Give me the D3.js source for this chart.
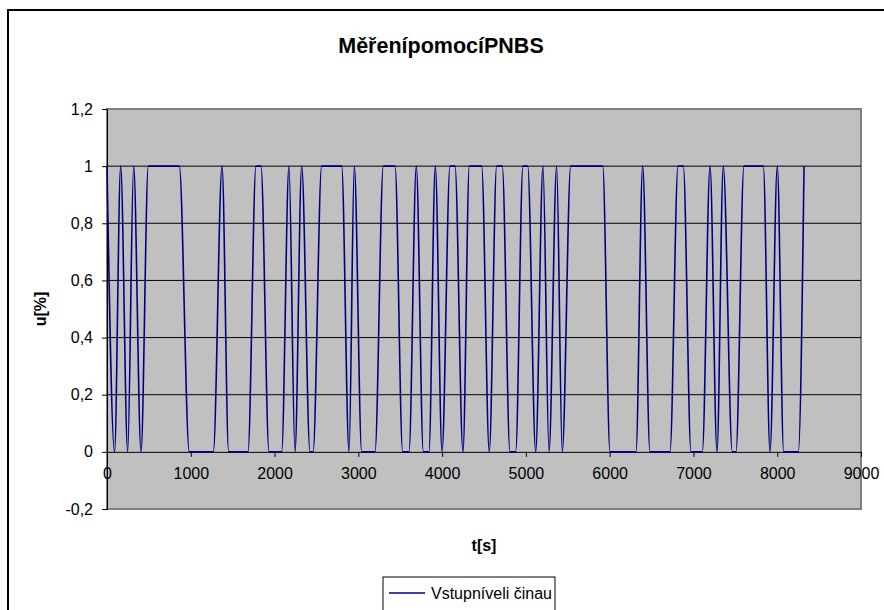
<!DOCTYPE html>
<html>
<head>
  <meta charset="utf-8">
  <title>MěřenípomocíPNBS</title>
  <style>
    body { margin: 0; background: #fff; }
    svg { display: block; font-family: "Liberation Sans", Arial, sans-serif; }
    .axis text { font-size: 16px; fill: #000; }
    .axis path, .axis line { stroke: #000; }
  </style>
</head>
<body>
  <div id="chart"></div>

  <script src="https://d3js.org/d3.v7.min.js"></script>
  <script>
    // switching points of the input signal
    const timeS = [0, 90, 163, 247, 318, 406, 493, 863, 982, 1269, 1373, 1452, 1683, 1778, 1838, 1934,
      2085, 2172, 2244, 2324, 2423, 2460, 2562, 2801, 2889, 2952, 3040, 3199, 3298, 3438, 3529, 3605,
      3692, 3776, 3843, 3919, 3999, 4094, 4154, 4249, 4325, 4472, 4563, 4651, 4718, 4810, 4878, 4965,
      5022, 5117, 5204, 5276, 5367, 5434, 5535, 5917, 6004, 6314, 6394, 6481, 6720, 6816, 6879, 6971,
      7106, 7198, 7281, 7356, 7464, 7508, 7603, 7834, 7914, 8001, 8077, 8252, 8320];
    const inputU = [1, 0, 1, 0, 1, 0, 1, 1, 0, 0, 1, 0, 0, 1, 1, 0,
      0, 1, 0, 1, 0, 0, 1, 1, 0, 1, 0, 0, 1, 1, 0, 0,
      1, 0, 0, 1, 0, 1, 1, 0, 1, 1, 0, 1, 1, 0, 0, 1,
      1, 0, 1, 0, 1, 0, 1, 1, 0, 0, 1, 0, 0, 1, 1, 0,
      0, 1, 0, 1, 0, 0, 1, 1, 0, 1, 0, 0, 1];

    const xTicks = [0, 1000, 2000, 3000, 4000, 5000, 6000, 7000, 8000, 9000];
    const yTicks = [-0.2, 0, 0.2, 0.4, 0.6, 0.8, 1, 1.2];
    const gridValues = [0.2, 0.4, 0.6, 0.8, 1];

    const seriesName = "Vstupníveli činau";
    const title = "MěřenípomocíPNBS";

    const width = 884, height = 610;
    const plot = { left: 107, top: 109, right: 861, bottom: 509 };

    const svg = d3.select("#chart").append("svg")
      .attr("width", width)
      .attr("height", height);

    // chart area border
    svg.append("rect")
      .attr("x", 8).attr("y", 10)
      .attr("width", 900).attr("height", 700)
      .attr("fill", "#fff")
      .attr("stroke", "#000")
      .attr("stroke-width", 2);

    const x = d3.scaleLinear().domain([0, 9000]).range([plot.left, plot.right]);
    const y = d3.scaleLinear().domain([-0.2, 1.2]).range([plot.bottom, plot.top]);

    svg.append("rect")
      .attr("x", plot.left).attr("y", plot.top)
      .attr("width", plot.right - plot.left)
      .attr("height", plot.bottom - plot.top)
      .attr("fill", "#c0c0c0")
      .attr("stroke", "#808080")
      .attr("stroke-width", 2);

    svg.append("g")
      .selectAll("line")
      .data(gridValues)
      .join("line")
      .attr("x1", plot.left).attr("x2", plot.right)
      .attr("y1", d => y(d)).attr("y2", d => y(d))
      .attr("stroke", "#000")
      .attr("stroke-width", 1);

    const commaFormat = d3.formatLocale({
      decimal: ",", thousands: "", grouping: [3], currency: ["", ""], minus: "-"
    }).format("~g");

    svg.append("g")
      .attr("class", "axis")
      .attr("transform", `translate(${plot.left},0)`)
      .call(d3.axisLeft(y).tickValues(yTicks).tickSize(5).tickPadding(9)
        .tickFormat(commaFormat).tickSizeOuter(0));

    svg.append("g")
      .attr("class", "axis")
      .attr("transform", `translate(0,${y(0)})`)
      .call(d3.axisBottom(x).tickValues(xTicks).tickSize(5).tickPadding(11)
        .tickFormat(d3.format("d")).tickSizeOuter(0));

    const line = d3.line()
      .x((d, i) => x(timeS[i]))
      .y(d => y(d))
      .curve(d3.curveMonotoneX);

    svg.append("path")
      .datum(inputU)
      .attr("d", line)
      .attr("fill", "none")
      .attr("stroke", "#000080")
      .attr("stroke-width", 1.6);

    svg.append("text")
      .attr("x", 441).attr("y", 53)
      .attr("text-anchor", "middle")
      .style("font-size", "21.5px")
      .style("font-weight", "bold")
      .text(title);

    svg.append("text")
      .attr("transform", `translate(46,${(plot.top + plot.bottom) / 2}) rotate(-90)`)
      .attr("text-anchor", "middle")
      .style("font-size", "16px")
      .style("font-weight", "bold")
      .text("u[%]");

    svg.append("text")
      .attr("x", (plot.left + plot.right) / 2).attr("y", 551)
      .attr("text-anchor", "middle")
      .style("font-size", "16px")
      .style("font-weight", "bold")
      .text("t[s]");

    // legend
    const legend = svg.append("g").attr("transform", "translate(383,577)");
    legend.append("rect")
      .attr("width", 172).attr("height", 50)
      .attr("fill", "#fff")
      .attr("stroke", "#000")
      .attr("stroke-width", 1);
    legend.append("line")
      .attr("x1", 6).attr("x2", 42)
      .attr("y1", 16).attr("y2", 16)
      .attr("stroke", "#000080")
      .attr("stroke-width", 1.5);
    legend.append("text")
      .attr("x", 48).attr("y", 22)
      .style("font-size", "16px")
      .text(seriesName);
  </script>
</body>
</html>
